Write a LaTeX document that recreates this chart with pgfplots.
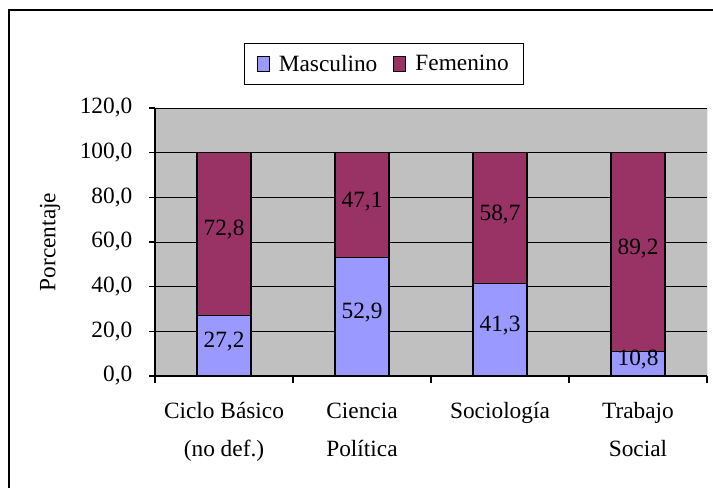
\documentclass[border=0pt]{standalone}
\usepackage{pgfplots}
\pgfplotsset{compat=1.18}
\usepackage{pgfplotstable}
\usepackage{fontspec}
\setmainfont{Liberation Serif}
\definecolor{masc}{HTML}{9999FF}
\definecolor{fem}{HTML}{993366}
\definecolor{bg}{HTML}{C0C0C0}
\newcommand\cf{\fontsize{17.5}{20}\selectfont}
\newcommand\xf{\fontsize{17.5}{28.5}\selectfont}
\pgfplotstableread{
x m f
0 27.2 72.8
1 52.9 47.1
2 41.3 58.7
3 10.8 89.2
}\data
\pgfplotstableread{
x y lab
0 13.6 27,2
1 26.45 52,9
2 20.65 41,3
3 5.4 10,8
0 63.6 72,8
1 76.45 47,1
2 70.65 58,7
3 55.4 89,2
}\labels
\begin{document}
\begin{tikzpicture}
\useasboundingbox (0pt,0pt) rectangle (534.75pt,-366pt);
\draw[line width=1.5pt] (6.75pt,-380pt) -- (6.75pt,-7.5pt) -- (545pt,-7.5pt);
\begin{axis}[
 at={(116.25pt,-282pt)}, anchor=south west, scale only axis, width=414pt, height=201pt,
 xmin=-0.5, xmax=3.5, ymin=0, ymax=120,
 ybar stacked, bar width=0.39,
 axis background/.style={fill=bg},
 axis x line*=bottom, axis y line*=left, axis line style={-, black, line width=0.8pt},
 ytick={0,20,...,120}, ymajorgrids, major grid style={black, line width=0.6pt},
 xtick={0,1,2,3},
 xticklabels={{Ciclo Básico\\(no def.)},{Ciencia\\Política},{Sociología},{Trabajo\\Social}},
 minor xtick={-0.5,0.5,1.5,2.5,3.5},
 major x tick style={draw=none}, minor x tick style={black, line width=0.8pt},
 y tick style={black, line width=0.8pt},
 tick align=outside, major tick length=4.5pt, minor tick length=5pt,
 yticklabel style={font=\cf, xshift=-9pt, /pgf/number format/.cd, fixed, fixed zerofill, precision=1, use comma, assume math mode=true},
 xticklabel style={font=\xf, align=center, anchor=north, yshift=-12pt},
 ylabel={Porcentaje},
 every axis y label/.style={at={(axis description cs:-0.190,0.5)}, rotate=90, anchor=center, font=\cf},
 legend style={at={(0.415,1.164)}, anchor=center, draw=black, line width=0.6pt, font=\cf,
   /tikz/every odd column/.append style={column sep=5pt},
   /tikz/every even column/.append style={column sep=10pt}, inner xsep=9pt, inner ysep=6.5pt},
 legend columns=2,
 legend image code/.code={\draw[#1, line width=0.6pt] (0pt,-5.5pt) rectangle (9pt,5.5pt);},
]
\addplot[fill=masc, draw=black, line width=0.9pt] table[x=x,y=m]{\data};
\addplot[fill=fem, draw=black, line width=0.9pt] table[x=x,y=f]{\data};
\legend{Masculino, Femenino}
\draw[gray!70!black, line width=0.6pt] (rel axis cs:1,0) -- (rel axis cs:1,1);
\end{axis}
\begin{axis}[
 at={(116.25pt,-282pt)}, anchor=south west, scale only axis, width=414pt, height=201pt,
 xmin=-0.5, xmax=3.5, ymin=0, ymax=120, hide axis,
]
\addplot[only marks, mark=none, nodes near coords, point meta=explicit symbolic,
  nodes near coords style={anchor=center, font=\cf, yshift=3pt, text=black}]
  table[x=x,y=y,meta=lab]{\labels};
\end{axis}
\end{tikzpicture}
\end{document}
